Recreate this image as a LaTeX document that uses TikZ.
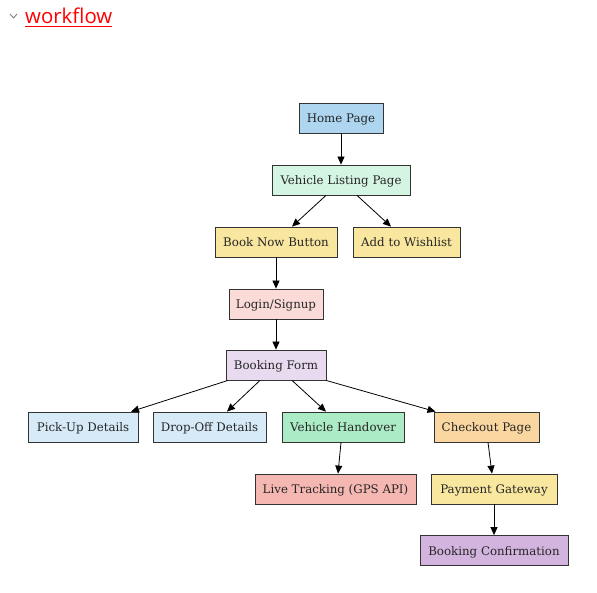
\documentclass[tikz,border=0pt]{standalone}
\usepackage{fontspec}
\setmainfont{DejaVu Serif}
\newfontfamily\titlefont{Open Sans}
\usetikzlibrary{arrows.meta}
\definecolor{cHome}{HTML}{AED6F1}
\definecolor{cList}{HTML}{D5F5E3}
\definecolor{cYel}{HTML}{F9E79F}
\definecolor{cLogin}{HTML}{FADBD8}
\definecolor{cForm}{HTML}{E8DAEF}
\definecolor{cDet}{HTML}{D6EAF8}
\definecolor{cHand}{HTML}{ABEBC6}
\definecolor{cCheck}{HTML}{FAD7A0}
\definecolor{cLive}{HTML}{F5B7B1}
\definecolor{cConf}{HTML}{D2B4DE}
\definecolor{cBorder}{HTML}{333333}
\definecolor{cTitle}{HTML}{FF0000}
\tikzset{
  box/.style={draw=cBorder, line width=0.8pt, minimum height=30pt, inner sep=0pt,
    text height=11.5pt, text depth=2pt,
    font=\fontsize{11.8}{13}\selectfont, text=black!85},
  conn/.style={-{Triangle[length=8pt,width=7pt]}, line width=0.8pt, black},
}
\begin{document}
\begin{tikzpicture}[x=1pt,y=-1pt]
\useasboundingbox (0,0) rectangle (597,593);
% title
\draw[gray, line width=0.9pt] (10,14) coordinate (chA) -- (13.5,18) coordinate (chB) -- (17,14) coordinate (chC);
\node[anchor=base west, inner sep=0pt, text=cTitle, font=\titlefont\fontsize{20.4}{23}\selectfont] (title) at (25,24) {workflow};
\draw[cTitle, line width=1.3pt] ([yshift=-2.5pt]title.base west) -- ([yshift=-2.5pt]title.base east);
% nodes
\node[box, fill=cHome, minimum width=84pt] (home) at (341,118) {Home Page};
\node[box, fill=cList, minimum width=138pt] (list) at (341,180) {Vehicle Listing Page};
\node[box, fill=cYel, minimum width=122pt] (book) at (276,242) {Book Now Button};
\node[box, fill=cYel, minimum width=107pt] (wish) at (406.5,242) {Add to Wishlist};
\node[box, fill=cLogin, minimum width=94pt] (login) at (276,304) {Login/Signup};
\node[box, fill=cForm, minimum width=100pt] (form) at (276,365) {Booking Form};
\node[box, fill=cDet, minimum width=110pt] (pick) at (83,427) {Pick-Up Details};
\node[box, fill=cDet, minimum width=113pt] (drop) at (209.5,427) {Drop-Off Details};
\node[box, fill=cHand, minimum width=122pt] (hand) at (343,427) {Vehicle Handover};
\node[box, fill=cCheck, minimum width=105pt] (check) at (486.5,427) {Checkout Page};
\node[box, fill=cLive, minimum width=161pt] (live) at (335.5,489) {Live Tracking (GPS API)};
\node[box, fill=cYel, minimum width=126pt] (pay) at (494,489) {Payment Gateway};
\node[box, fill=cConf, minimum width=148pt] (conf) at (494,550.5) {Booking Confirmation};
% connectors
\draw[conn] (home.south) -- (list.north);
\draw[conn] ([xshift=-15pt]list.south) -- ([xshift=16pt]book.north);
\draw[conn] ([xshift=16pt]list.south) -- ([xshift=-15.5pt]wish.north);
\draw[conn] (book.south) -- (login.north);
\draw[conn] (login.south) -- (form.north);
\draw[conn] ([xshift=-48pt]form.south) -- ([xshift=48pt]pick.north);
\draw[conn] ([xshift=-16pt]form.south) -- ([xshift=17.5pt]drop.north);
\draw[conn] ([xshift=16pt]form.south) -- ([xshift=-17pt]hand.north);
\draw[conn] ([xshift=50pt]form.south) -- ([xshift=-51pt]check.north);
\draw[conn] ([xshift=-2pt]hand.south) -- ([xshift=2.5pt]live.north);
\draw[conn] ([xshift=1.5pt]check.south) -- ([xshift=-2pt]pay.north);
\draw[conn] (pay.south) -- (conf.north);
\end{tikzpicture}
\end{document}
